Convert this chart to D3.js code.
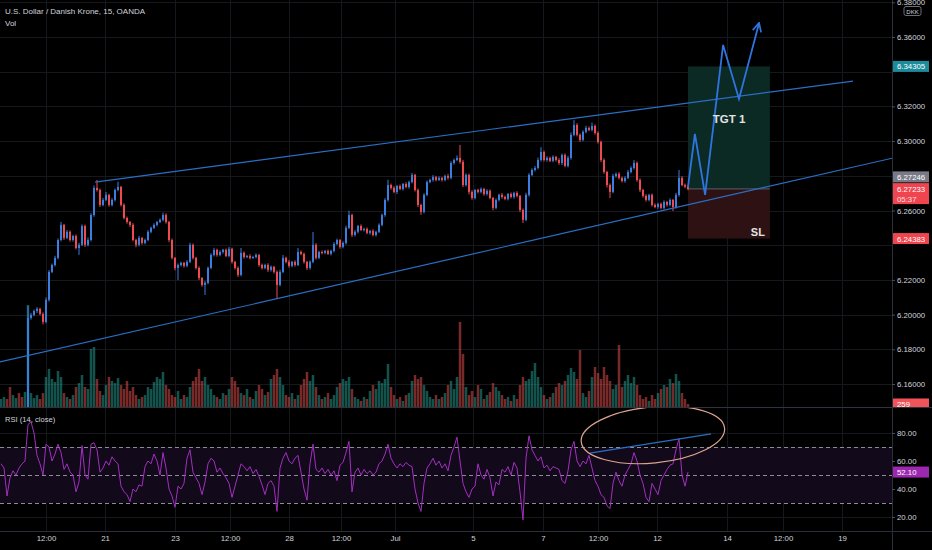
<!DOCTYPE html>
<html>
<head>
<meta charset="utf-8">
<script src="https://cdn.jsdelivr.net/npm/d3@7"></script>
<style>
  html, body { margin: 0; padding: 0; background: #000; }
  svg { display: block; font-family: "Liberation Sans", Arial, sans-serif; }
</style>
</head>
<body>
<div id="chart"></div>
<script>
// USD/DKK, bars (one bar per ~3px slot)
const firstOpen = 6.1350;
const closes = [
  6.1362, 6.1371, 6.1355, 6.1348, 6.1366, 6.1378, 6.1359, 6.1344, 6.1352, 6.1981,
  6.1998, 6.2021, 6.2033, 6.2004, 6.1958, 6.2085, 6.2246, 6.2286, 6.2327, 6.2430,
  6.2517, 6.2442, 6.2477, 6.2430, 6.2453, 6.2384, 6.2402, 6.2511, 6.2402, 6.2430,
  6.2574, 6.2730, 6.2718, 6.2632, 6.2661, 6.2690, 6.2632, 6.2661, 6.2718, 6.2736,
  6.2632, 6.2557, 6.2534, 6.2517, 6.2430, 6.2402, 6.2442, 6.2413, 6.2430, 6.2477,
  6.2500, 6.2517, 6.2534, 6.2546, 6.2574, 6.2534, 6.2430, 6.2327, 6.2269, 6.2286,
  6.2298, 6.2281, 6.2304, 6.2402, 6.2327, 6.2269, 6.2211, 6.2171, 6.2183, 6.2269,
  6.2344, 6.2373, 6.2344, 6.2361, 6.2373, 6.2338, 6.2379, 6.2304, 6.2269, 6.2229,
  6.2356, 6.2332, 6.2338, 6.2327, 6.2332, 6.2344, 6.2286, 6.2269, 6.2286, 6.2258,
  6.2275, 6.2246, 6.2171, 6.2246, 6.2327, 6.2304, 6.2281, 6.2304, 6.2286, 6.2361,
  6.2350, 6.2304, 6.2269, 6.2304, 6.2402, 6.2327, 6.2361, 6.2356, 6.2367, 6.2350,
  6.2367, 6.2407, 6.2430, 6.2390, 6.2413, 6.2500, 6.2574, 6.2459, 6.2477, 6.2511,
  6.2488, 6.2494, 6.2471, 6.2482, 6.2459, 6.2477, 6.2517, 6.2574, 6.2661, 6.2747,
  6.2730, 6.2707, 6.2741, 6.2724, 6.2753, 6.2736, 6.2764, 6.2805, 6.2718, 6.2632,
  6.2592, 6.2690, 6.2764, 6.2776, 6.2793, 6.2776, 6.2788, 6.2776, 6.2799, 6.2788,
  6.2874, 6.2891, 6.2903, 6.2880, 6.2747, 6.2805, 6.2707, 6.2672, 6.2718, 6.2707,
  6.2724, 6.2695, 6.2713, 6.2672, 6.2615, 6.2661, 6.2690, 6.2678, 6.2667, 6.2695,
  6.2678, 6.2701, 6.2684, 6.2603, 6.2546, 6.2690, 6.2805, 6.2834, 6.2845, 6.2891,
  6.2937, 6.2891, 6.2903, 6.2886, 6.2909, 6.2891, 6.2874, 6.2920, 6.2857, 6.2903,
  6.3036, 6.3093, 6.3036, 6.3007, 6.3053, 6.3076, 6.3064, 6.3087, 6.3047, 6.2995,
  6.2891, 6.2822, 6.2747, 6.2707, 6.2799, 6.2811, 6.2788, 6.2770, 6.2788, 6.2822,
  6.2845, 6.2874, 6.2776, 6.2718, 6.2684, 6.2661, 6.2690, 6.2632, 6.2620, 6.2638,
  6.2615, 6.2649, 6.2632, 6.2661, 6.2620, 6.2690, 6.2788, 6.2747, 6.2738, 6.27233
];
// wick lengths above / below the body, in 0.0001
const wickUp = [
  8, 6, 10, 7, 9, 5, 8, 6, 7, 70,   12, 8, 10, 6, 9, 14, 10, 8, 12, 9,
  17, 6, 10, 8, 7, 9, 12, 9, 8, 14,  10, 14, 46, 8, 12, 17, 6, 10, 8, 30,
  6, 9, 8, 5, 10, 7, 12, 6, 8, 10,   7, 9, 6, 8, 14, 10, 6, 8, 5, 9,
  7, 6, 10, 12, 8, 6, 9, 5, 10, 8,   9, 12, 7, 10, 6, 8, 11, 7, 6, 9,
  28, 8, 6, 10, 7, 9, 6, 8, 7, 10,   8, 6, 9, 12, 17, 7, 10, 6, 8, 23,
  9, 7, 6, 8, 74, 10, 7, 9, 6, 8,    7, 10, 8, 6, 9, 12, 25, 8, 10, 6,
  9, 7, 8, 6, 10, 7, 9, 8, 10, 30,   8, 10, 7, 9, 6, 10, 8, 12, 6, 8,
  7, 10, 9, 8, 11, 7, 9, 6, 8, 12,   10, 8, 14, 75, 12, 9, 7, 10, 6, 8,
  9, 7, 10, 8, 6, 9, 7, 10, 8, 6,    9, 7, 10, 6, 8, 12, 10, 9, 11, 14,
  28, 8, 10, 7, 9, 6, 10, 8, 9, 12,  14, 28, 10, 8, 9, 12, 8, 20, 9, 10,
  8, 10, 7, 9, 12, 8, 10, 7, 9, 12,  10, 17, 8, 9, 7, 10, 6, 8, 9, 7,
  8, 10, 7, 9, 6, 12, 46, 10, 8, 9
];
const wickDn = [
  7, 9, 6, 10, 8, 7, 9, 8, 6, 10,    10, 8, 12, 9, 14, 8, 10, 7, 9, 8,
  8, 12, 7, 10, 9, 8, 40, 7, 12, 9,  8, 10, 9, 12, 8, 7, 10, 8, 9, 7,
  9, 8, 10, 12, 8, 14, 9, 10, 8, 7,  8, 7, 9, 6, 8, 10, 12, 9, 14, 70,
  9, 10, 8, 7, 10, 9, 12, 10, 58, 8, 7, 9, 10, 8, 9, 7, 8, 10, 9, 12,
  8, 10, 7, 9, 6, 8, 10, 9, 8, 12,   10, 9, 80, 8, 7, 9, 10, 8, 9, 7,
  8, 10, 12, 9, 8, 10, 7, 9, 8, 6,   9, 8, 7, 10, 8, 9, 7, 12, 8, 9,
  7, 9, 8, 10, 8, 9, 7, 8, 10, 9,    10, 8, 12, 7, 9, 8, 10, 8, 9, 12,
  17, 9, 8, 7, 10, 8, 6, 9, 8, 10,   8, 9, 7, 10, 12, 9, 14, 10, 8, 9,
  8, 10, 9, 7, 14, 8, 9, 10, 8, 9,   8, 10, 9, 12, 18, 8, 10, 7, 9, 8,
  9, 8, 10, 7, 8, 9, 10, 12, 8, 9,   10, 8, 9, 12, 8, 9, 7, 8, 10, 9,
  12, 10, 14, 35, 8, 10, 9, 8, 10, 7, 8, 9, 10, 12, 9, 10, 8, 9, 7, 10,
  8, 9, 10, 8, 23, 9, 10, 8, 9, 7
];
const volumes = [
  690, 860, 690, 1720, 1030, 770, 1200, 860, 1290, 8770,
  1200, 770, 1030, 690, 1200, 2580, 3270, 2410, 2150, 3100,
  2580, 1200, 860, 690, 1030, 1720, 2060, 2750, 1720, 1550,
  4990, 5160, 2410, 1380, 1030, 1890, 2580, 2240, 2060, 2490,
  1890, 1550, 2240, 1380, 1720, 1030, 690, 860, 1030, 1720,
  1550, 2150, 2580, 2410, 3010, 1890, 1550, 1030, 860, 1380,
  690, 1030, 860, 1720, 2240, 2580, 3270, 2240, 2580, 1890,
  1550, 1030, 860, 690, 1200, 1030, 1550, 2580, 2240, 1720,
  1200, 1030, 1550, 860, 690, 1380, 1890, 1550, 1030, 1290,
  2410, 2750, 3270, 2580, 1890, 1030, 860, 1200, 690, 1030,
  1890, 2410, 3010, 2240, 2750, 1720, 1030, 690, 860, 1200,
  690, 1030, 1720, 2060, 2410, 2240, 2580, 1550, 860, 690,
  520, 860, 690, 1380, 1890, 1550, 2240, 2060, 2410, 3700,
  1720, 1030, 690, 860, 520, 1030, 1200, 2240, 2750, 2410,
  2580, 1890, 1380, 860, 690, 1030, 690, 860, 1200, 1890,
  2240, 1550, 2580, 7310, 4560, 1720, 1030, 1380, 860, 1890,
  1550, 690, 1030, 1290, 2060, 1720, 1380, 1030, 690, 860,
  520, 1030, 690, 1890, 2580, 2240, 2410, 3100, 3780, 2580,
  1720, 1030, 690, 860, 1200, 1720, 2060, 1890, 2240, 2750,
  3350, 3010, 2410, 4900, 1200, 860, 1380, 2580, 3440, 2920,
  2410, 3440, 2750, 2240, 1550, 1890, 5330, 1720, 2240, 2750,
  2060, 2580, 1890, 1030, 690, 860, 520, 1030, 690, 1200,
  1550, 1890, 1720, 2410, 2060, 2840, 2240, 1200, 690, 259
];
const rsi = [
  58, 55, 35, 48, 53, 50, 55, 58, 60, 86,   88, 80, 64, 58, 50, 72, 70, 60, 65, 72,
  66, 54, 58, 52, 50, 38, 45, 71, 50, 47,   72, 73, 68, 52, 55, 60, 57, 63, 60, 58,
  42, 38, 36, 31, 40, 38, 43, 42, 56, 60,   58, 65, 60, 50, 66, 55, 40, 35, 27, 42,
  40, 44, 62, 68, 52, 48, 44, 36, 45, 58,   62, 60, 52, 55, 51, 48, 44, 34, 42, 50,
  58, 56, 53, 56, 51, 54, 49, 43, 36, 44,   46, 42, 24, 55, 62, 66, 60, 58, 62, 64,
  52, 40, 32, 58, 72, 54, 52, 55, 51, 54,   50, 53, 46, 57, 59, 66, 74, 38, 52, 55,
  50, 54, 51, 53, 50, 52, 58, 60, 65, 72,   62, 58, 55, 58, 56, 59, 57, 56, 40, 30,
  24, 44, 55, 58, 62, 57, 60, 55, 58, 53,   64, 70, 77, 60, 44, 38, 34, 40, 42, 58,
  50, 47, 54, 48, 35, 45, 43, 54, 52, 56,   50, 59, 55, 38, 18, 62, 78, 68, 64, 60,
  63, 55, 57, 53, 56, 55, 54, 46, 44, 53,   68, 74, 60, 56, 60, 58, 64, 55, 46, 42,
  36, 34, 28, 26, 44, 52, 46, 42, 50, 54,   58, 66, 60, 50, 44, 34, 31, 44, 40, 36,
  46, 50, 54, 57, 58, 68, 76, 50, 42, 52.1
];

// time axis: label text and its bar slot
const timeLabels = ["12:00", "21", "23", "12:00", "28", "12:00", "Jul", "5", "7", "12:00", "12", "14", "12:00", "19"];
const timeSlots = [15, 34.67, 58, 76.33, 96, 113.33, 131.33, 157.33, 180.67, 199, 218.67, 242, 260.67, 280.33];
const priceTicks = [6.16, 6.18, 6.20, 6.22, 6.24, 6.26, 6.28, 6.30, 6.32, 6.34, 6.36, 6.38];
// labels that sit under the axis badges are not printed
const priceLabelTicks = [6.16, 6.18, 6.20, 6.22, 6.26, 6.30, 6.32, 6.36, 6.38];
const rsiTicks = [20, 40, 60, 80];

// drawings (slot, price)
const upperChannel = [[31.33, 6.2764], [284, 6.3346]];
const lowerChannel = [[-0.33, 6.1727], [300, 6.2913]];
const projection = [[229, 6.2736], [231.3, 6.3041], [234.7, 6.2690], [240.7, 6.3554], [246, 6.3243], [252.7, 6.3681]];
const position = { from: 229, to: 256.3, target: 6.34305, entry: 6.27246, stop: 6.24383 };
const rsiTrend = [[196.3, 65.7], [236.7, 79.3]];

const W = 932, H = 550;
const paneRight = 892, mainBottom = 407, rsiTop = 408, rsiBottom = 531;

const bars = closes.map((c, i) => {
  const o = i === 0 ? firstOpen : closes[i - 1];
  return {
    i, o, c,
    h: Math.max(o, c) + wickUp[i] / 10000,
    l: Math.min(o, c) - wickDn[i] / 10000,
    v: volumes[i],
    up: c >= o
  };
});

const x = d3.scaleLinear().domain([0, 297]).range([1, paneRight]);
const y = d3.scaleLinear().domain([6.16, 6.36]).range([384, 37]);
const yRsi = d3.scaleLinear().domain([20, 80]).range([517, 433]);
const hVol = d3.scaleLinear().domain([0, d3.max(volumes)]).range([0, 102]);

const svg = d3.select("#chart").append("svg")
  .attr("width", W).attr("height", H)
  .style("background", "#000");

const defs = svg.append("defs");
defs.append("clipPath").attr("id", "mainClip")
  .append("rect").attr("x", 0).attr("y", 0).attr("width", paneRight).attr("height", mainBottom);
defs.append("clipPath").attr("id", "rsiClip")
  .append("rect").attr("x", 0).attr("y", rsiTop).attr("width", paneRight).attr("height", rsiBottom - rsiTop);
defs.append("clipPath").attr("id", "axisMainClip")
  .append("rect").attr("x", paneRight).attr("y", 0).attr("width", 40).attr("height", mainBottom);
defs.append("marker").attr("id", "arrow")
  .attr("viewBox", "0 0 10 10").attr("refX", 9).attr("refY", 5)
  .attr("markerWidth", 6).attr("markerHeight", 6).attr("orient", "auto")
  .append("path").attr("d", "M1,1 L9,5 L1,9")
  .attr("fill", "none").attr("stroke", "#2f74e0").attr("stroke-width", 1.6);

// grid
const grid = svg.append("g").attr("stroke", "#15181d").attr("stroke-width", 1);
grid.selectAll(".vg").data(timeSlots).join("line")
  .attr("x1", d => Math.round(x(d)) + 0.5).attr("x2", d => Math.round(x(d)) + 0.5)
  .attr("y1", 0).attr("y2", rsiBottom);
grid.selectAll(".hg").data(priceTicks).join("line")
  .attr("x1", 0).attr("x2", paneRight)
  .attr("y1", d => Math.round(y(d)) + 0.5).attr("y2", d => Math.round(y(d)) + 0.5);
grid.selectAll(".rg").data(rsiTicks).join("line")
  .attr("x1", 0).attr("x2", paneRight)
  .attr("y1", d => Math.round(yRsi(d)) + 0.5).attr("y2", d => Math.round(yRsi(d)) + 0.5);

// main pane
const main = svg.append("g").attr("clip-path", "url(#mainClip)");

// long position box
main.append("rect")
  .attr("x", x(position.from)).attr("width", x(position.to) - x(position.from))
  .attr("y", y(position.target)).attr("height", y(position.entry) - y(position.target))
  .attr("fill", "#0b2a24");
main.append("rect")
  .attr("x", x(position.from)).attr("width", x(position.to) - x(position.from))
  .attr("y", y(position.entry)).attr("height", y(position.stop) - y(position.entry))
  .attr("fill", "#2e1113");
main.append("line")
  .attr("x1", x(position.from)).attr("x2", x(position.to))
  .attr("y1", y(position.entry)).attr("y2", y(position.entry))
  .attr("stroke", "#5d606b").attr("stroke-width", 1);

// volume
main.append("g").selectAll("rect").data(bars).join("rect")
  .attr("x", d => x(d.i) - 1.25).attr("width", 2.5)
  .attr("y", d => mainBottom - hVol(d.v)).attr("height", d => hVol(d.v))
  .attr("fill", d => d.up ? "rgba(38,166,154,0.5)" : "rgba(239,83,80,0.5)");

// candles
const candle = main.append("g").selectAll("g").data(bars).join("g");
candle.append("line")
  .attr("x1", d => x(d.i)).attr("x2", d => x(d.i))
  .attr("y1", d => y(d.h)).attr("y2", d => y(d.l))
  .attr("stroke", d => d.up ? "#3a7ee0" : "#ef4a52").attr("stroke-width", 1);
candle.append("rect")
  .attr("x", d => x(d.i) - 1).attr("width", 2)
  .attr("y", d => y(Math.max(d.o, d.c)))
  .attr("height", d => Math.max(1, Math.abs(y(d.o) - y(d.c))))
  .attr("fill", d => d.up ? "#3a7ee0" : "#ef4a52");

// channel + projection
const line = d3.line().x(d => x(d[0])).y(d => y(d[1]));
main.append("path").datum(upperChannel).attr("d", line)
  .attr("fill", "none").attr("stroke", "#2a6fc4").attr("stroke-width", 1.2);
main.append("path").datum(lowerChannel).attr("d", line)
  .attr("fill", "none").attr("stroke", "#2a6fc4").attr("stroke-width", 1.2);
main.append("path").datum(projection).attr("d", line)
  .attr("fill", "none").attr("stroke", "#2f74e0").attr("stroke-width", 1.8)
  .attr("stroke-linejoin", "miter").attr("marker-end", "url(#arrow)");

main.append("text").text("TGT 1")
  .attr("x", x(242.7)).attr("y", y(6.3127)).attr("dy", "0.35em")
  .attr("text-anchor", "middle").attr("fill", "#e3e3e3")
  .style("font-size", "11.5px").style("font-weight", "bold");
main.append("text").text("SL")
  .attr("x", x(252.3)).attr("y", y(6.2476)).attr("dy", "0.35em")
  .attr("text-anchor", "middle").attr("fill", "#e3e3e3")
  .style("font-size", "11px").style("font-weight", "bold");

svg.append("text").text("U.S. Dollar / Danish Krone, 15, OANDA")
  .attr("x", 5).attr("y", 14).attr("fill", "#d1d4dc").style("font-size", "8px");
svg.append("text").text("Vol")
  .attr("x", 5).attr("y", 25.5).attr("fill", "#d1d4dc").style("font-size", "8px");

// RSI pane
const rsiG = svg.append("g").attr("clip-path", "url(#rsiClip)");
rsiG.append("rect")
  .attr("x", 0).attr("width", paneRight)
  .attr("y", yRsi(70)).attr("height", yRsi(30) - yRsi(70))
  .attr("fill", "#12091a");
rsiG.selectAll(".band").data([70, 50, 30]).join("line")
  .attr("x1", 0).attr("x2", paneRight)
  .attr("y1", d => Math.round(yRsi(d)) + 0.5).attr("y2", d => Math.round(yRsi(d)) + 0.5)
  .attr("stroke", "#8a8d96").attr("stroke-dasharray", "4,3").attr("stroke-width", 1);
rsiG.append("path").datum(rsi)
  .attr("d", d3.line().x((d, i) => x(i)).y(d => yRsi(d)))
  .attr("fill", "none").attr("stroke", "#a22fc0").attr("stroke-width", 1);
rsiG.append("path").datum(rsiTrend)
  .attr("d", d3.line().x(d => x(d[0])).y(d => yRsi(d[1])))
  .attr("fill", "none").attr("stroke", "#2a6fc4").attr("stroke-width", 1.3);
const ell = { cx: 217.3, cy: 78.6, rx: 72, ry: 28, angle: -5.5 };
rsiG.append("ellipse")
  .attr("cx", 0).attr("cy", 0).attr("rx", ell.rx).attr("ry", ell.ry)
  .attr("transform", `translate(${x(ell.cx)},${yRsi(ell.cy)}) rotate(${ell.angle})`)
  .attr("fill", "none").attr("stroke", "#dca48c").attr("stroke-width", 1.2);
svg.append("text").text("RSI (14, close)")
  .attr("x", 5).attr("y", 422).attr("fill", "#d1d4dc").style("font-size", "7.6px");

// separators
svg.append("line").attr("x1", paneRight + 0.5).attr("x2", paneRight + 0.5)
  .attr("y1", 0).attr("y2", H).attr("stroke", "#2a2e39");
svg.append("line").attr("x1", 0).attr("x2", W)
  .attr("y1", mainBottom + 0.5).attr("y2", mainBottom + 0.5).attr("stroke", "#2f333d");
svg.append("line").attr("x1", 0).attr("x2", W)
  .attr("y1", rsiBottom + 0.5).attr("y2", rsiBottom + 0.5).attr("stroke", "#2a2e39");

// axes
const priceAxis = svg.append("g").attr("transform", `translate(${paneRight},0)`)
  .call(d3.axisRight(y).tickValues(priceLabelTicks).tickFormat(d3.format(".5f")).tickSize(3).tickPadding(2));
const rsiAxis = svg.append("g").attr("transform", `translate(${paneRight},0)`)
  .call(d3.axisRight(yRsi).tickValues(rsiTicks).tickFormat(d3.format(".2f")).tickSize(3).tickPadding(2));
const timeAxis = svg.append("g").attr("transform", `translate(0,${rsiBottom})`)
  .call(d3.axisBottom(x).tickValues(timeSlots).tickFormat((d, i) => timeLabels[i]).tickSize(0).tickPadding(4));
[priceAxis, rsiAxis, timeAxis].forEach(a => {
  a.select(".domain").remove();
  a.selectAll(".tick line").attr("stroke", "#4a4e59");
  a.selectAll("text").attr("fill", "#d1d4dc").style("font-size", "7.8px")
    .style("font-family", "'Liberation Sans', Arial, sans-serif");
});

// DKK badge
svg.append("rect").attr("x", 904).attr("y", 6.5).attr("width", 17).attr("height", 9)
  .attr("rx", 2).attr("fill", "#000").attr("stroke", "#6b6f7a");
svg.append("text").text("DKK").attr("x", 912.5).attr("y", 13.5)
  .attr("text-anchor", "middle").attr("fill", "#d1d4dc").style("font-size", "6px");

// axis price badges
function badge(yMid, label, color, h, sub, clipTo) {
  const g = svg.append("g");
  if (clipTo) g.attr("clip-path", clipTo);
  g.append("rect").attr("x", paneRight + 1).attr("y", yMid - 5.5).attr("width", 36).attr("height", h)
    .attr("fill", color);
  g.append("text").text(label).attr("x", paneRight + 5).attr("y", yMid + 3)
    .attr("fill", "#fff").style("font-size", "7.8px");
  if (sub) {
    g.append("text").text(sub).attr("x", paneRight + 5).attr("y", yMid + 13.5)
      .attr("fill", "#fde0e2").style("font-size", "7.8px");
  }
}
const last = bars[bars.length - 1];
badge(y(position.target), d3.format(".5f")(position.target), "#1c8c9c", 11);
badge(y(position.entry) - 12, d3.format(".5f")(position.entry), "#787b86", 11);
badge(y(last.c) - 0.5, d3.format(".5f")(last.c), last.up ? "#2f6fd0" : "#f0454f", 21, "05:37");
badge(y(position.stop), d3.format(".5f")(position.stop), "#f0454f", 11);
badge(mainBottom - hVol(last.v), String(last.v), last.up ? "#26a69a" : "#f0545a", 11, null, "url(#axisMainClip)");
badge(yRsi(rsi[rsi.length - 1]), d3.format(".2f")(rsi[rsi.length - 1]), "#9c27b0", 11);
</script>
</body>
</html>
